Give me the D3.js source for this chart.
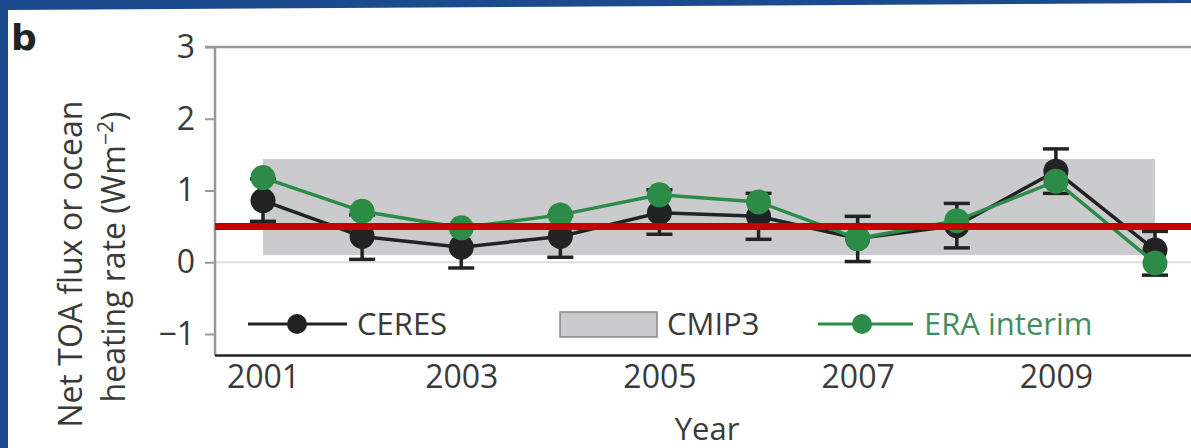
<!DOCTYPE html>
<html>
<head>
<meta charset="utf-8">
<script src="https://cdn.jsdelivr.net/npm/d3@7"></script>
<style>
  html, body { margin: 0; padding: 0; background: #fff; }
  svg text { font-family: "Open Sans", "Liberation Sans", sans-serif; fill: #3a3a3a; }
</style>
</head>
<body>
<div id="chart"></div>
<script>
// data
const years = [2001, 2002, 2003, 2004, 2005, 2006, 2007, 2008, 2009, 2010];
const ceres = [0.86, 0.36, 0.21, 0.36, 0.69, 0.64, 0.33, 0.51, 1.27, 0.17];
const ceresLow = [0.57, 0.04, -0.08, 0.07, 0.39, 0.32, 0.01, 0.20, 0.96, -0.18];
const ceresHigh = [1.16, 0.66, 0.50, 0.65, 1.01, 0.96, 0.64, 0.82, 1.58, 0.43];
const era = [1.18, 0.71, 0.48, 0.66, 0.94, 0.84, 0.33, 0.58, 1.13, -0.01];
const cmip3 = [0.10, 1.44];      // grey band, 2001-2010
const redLevel = 0.5;
const xTicks = [2001, 2003, 2005, 2007, 2009];
const yTicks = [-1, 0, 1, 2, 3];

const width = 1191, height = 448;
const black = '#222', green = '#2c8c47', grey = '#999';

const svg = d3.select('#chart').append('svg')
    .attr('width', width).attr('height', height);

// blue frame (slightly tilted at the top)
svg.append('polygon')
    .attr('points', `0,0 ${width},0 ${width},3 8,10 8,${height} 0,${height}`)
    .attr('fill', '#1b4b8c');

// panel letter
svg.append('text').attr('x', 11).attr('y', 50)
    .style('font-size', '36px').style('font-weight', 'bold')
    .style('font-family', '"DejaVu Sans", sans-serif').style('fill', '#222')
    .text('b');

const x = d3.scaleLinear([2001, 2010], [263, 1155]);
const y = d3.scaleLinear([-1, 3], [334, 47]);
const yBottom = y(-1.3), xLeft = 215;

// CMIP3 band
svg.append('rect')
    .attr('x', x(2001)).attr('width', x(2010) - x(2001))
    .attr('y', y(cmip3[1])).attr('height', y(cmip3[0]) - y(cmip3[1]))
    .attr('fill', '#cbcbce');

// zero line
svg.append('line').attr('x1', xLeft).attr('x2', width)
    .attr('y1', y(0)).attr('y2', y(0))
    .attr('stroke', '#ddd').attr('stroke-width', 2);

// top frame line
svg.append('line').attr('x1', xLeft - 10).attr('x2', width)
    .attr('y1', y(3)).attr('y2', y(3))
    .attr('stroke', grey).attr('stroke-width', 2.5);

// y axis
const axisY = svg.append('g').attr('transform', `translate(${xLeft},0)`)
    .call(d3.axisLeft(y).tickValues(yTicks).tickSize(10).tickPadding(10)
        .tickFormat(d => d < 0 ? '\u2212' + Math.abs(d) : d));
axisY.select('.domain').remove();
axisY.selectAll('.tick line').attr('stroke', grey).attr('stroke-width', 2);
axisY.selectAll('.tick text').style('font-size', '32px').style('fill', '#3a3a3a')
    .attr('font-family', null);
svg.append('line').attr('x1', xLeft).attr('x2', xLeft)
    .attr('y1', y(3) - 1).attr('y2', yBottom)
    .attr('stroke', grey).attr('stroke-width', 2.5);

// x axis
const axisX = svg.append('g').attr('transform', `translate(0,${yBottom})`)
    .call(d3.axisBottom(x).tickValues(xTicks).tickSize(0).tickPadding(10)
        .tickFormat(d3.format('d')));
axisX.select('.domain').remove();
axisX.selectAll('.tick text').style('font-size', '32px').style('fill', '#3a3a3a')
    .attr('font-family', null);
svg.append('line').attr('x1', xLeft).attr('x2', width)
    .attr('y1', yBottom).attr('y2', yBottom)
    .attr('stroke', black).attr('stroke-width', 2.5);

// axis labels
svg.append('text').attr('x', 707).attr('y', 440)
    .attr('text-anchor', 'middle').style('font-size', '31px').text('Year');
svg.append('text').attr('transform', 'translate(82,264)rotate(-90)')
    .attr('text-anchor', 'middle').style('font-size', '32px')
    .text('Net TOA flux or ocean');
const yl2 = svg.append('text').attr('transform', 'translate(125,257)rotate(-90)')
    .attr('text-anchor', 'middle').style('font-size', '32px');
yl2.append('tspan').text('heating rate (Wm');
yl2.append('tspan').attr('dy', -12).style('font-size', '21px').text('\u22122');
yl2.append('tspan').attr('dy', 12).text(')');

const line = d3.line().x((d, i) => x(years[i])).y(d => y(d));

// CERES with error bars
const errs = svg.append('g');
years.forEach((yr, i) => {
    errs.append('line').attr('x1', x(yr)).attr('x2', x(yr))
        .attr('y1', y(ceresLow[i])).attr('y2', y(ceresHigh[i]));
    [ceresLow[i], ceresHigh[i]].forEach(v => {
        errs.append('line').attr('x1', x(yr) - 13).attr('x2', x(yr) + 13)
            .attr('y1', y(v)).attr('y2', y(v));
    });
});
errs.selectAll('line').attr('stroke', black).attr('stroke-width', 3.5);

svg.append('path').datum(ceres).attr('d', line)
    .attr('fill', 'none').attr('stroke', black).attr('stroke-width', 3.5);
svg.append('g').selectAll('circle').data(ceres).join('circle')
    .attr('cx', (d, i) => x(years[i])).attr('cy', d => y(d)).attr('r', 12.5)
    .attr('fill', black);

// ERA interim
svg.append('path').datum(era).attr('d', line)
    .attr('fill', 'none').attr('stroke', green).attr('stroke-width', 3.5);
svg.append('g').selectAll('circle').data(era).join('circle')
    .attr('cx', (d, i) => x(years[i])).attr('cy', d => y(d)).attr('r', 12.5)
    .attr('fill', green);

// red reference line
svg.append('line').attr('x1', xLeft).attr('x2', width)
    .attr('y1', y(redLevel)).attr('y2', y(redLevel))
    .attr('stroke', '#c40000').attr('stroke-width', 7);

// legend
const ly = 324;
const lg = svg.append('g');
lg.append('line').attr('x1', 248).attr('x2', 347).attr('y1', ly).attr('y2', ly)
    .attr('stroke', black).attr('stroke-width', 3);
lg.append('circle').attr('cx', 297).attr('cy', ly).attr('r', 10).attr('fill', black);
lg.append('text').attr('x', 357).attr('y', ly + 11).style('font-size', '31px').text('CERES');
lg.append('rect').attr('x', 560).attr('y', ly - 12).attr('width', 97).attr('height', 25)
    .attr('fill', '#cbcbce').attr('stroke', '#888').attr('stroke-width', 1.5);
lg.append('text').attr('x', 667).attr('y', ly + 11).style('font-size', '31px').text('CMIP3');
lg.append('line').attr('x1', 818).attr('x2', 913).attr('y1', ly).attr('y2', ly)
    .attr('stroke', green).attr('stroke-width', 3);
lg.append('circle').attr('cx', 862).attr('cy', ly).attr('r', 10).attr('fill', green);
lg.append('text').attr('x', 924).attr('y', ly + 11).style('font-size', '31px')
    .style('fill', '#3f8f60').text('ERA interim');
</script>
</body>
</html>
